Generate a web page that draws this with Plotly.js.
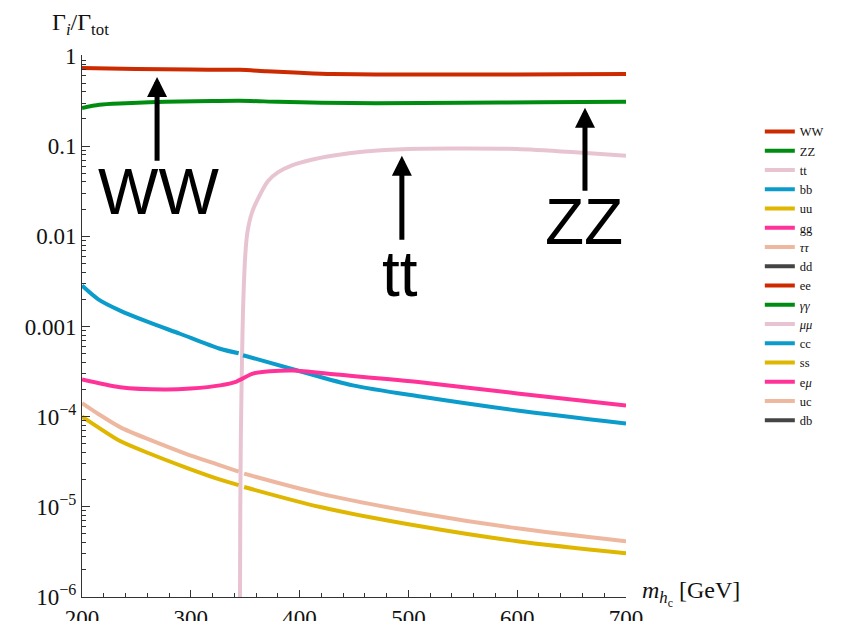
<!DOCTYPE html>
<html>
<head>
<meta charset="utf-8">
<script src="https://cdn.plot.ly/plotly-3.0.1.min.js"></script>
<style>html,body{margin:0;padding:0;background:#fff;}</style>
</head>
<body>
<div id="chart" style="width:843px;height:621px;"></div>
<script>
// ---- data ----
const wwMass = [200, 250, 300, 345, 370, 400, 430, 470, 520, 600, 700];
const wwVal  = [0.735, 0.715, 0.705, 0.70, 0.675, 0.65, 0.63, 0.622, 0.62, 0.622, 0.628];

const zzMass = [200, 216, 240, 262, 290, 320, 345, 380, 420, 470, 550, 620, 700];
const zzVal  = [0.265, 0.287, 0.298, 0.306, 0.312, 0.316, 0.318, 0.31, 0.303, 0.299, 0.302, 0.306, 0.31];

const ttMass = [345.1, 345.5, 346, 347, 348, 350, 352, 356, 361, 371, 380, 393, 410, 430, 460, 500, 540, 600, 650, 700];
const ttVal  = [5e-7, 1e-5, 6e-5, 4e-4, 1.5e-3, 6e-3, 0.011, 0.018, 0.025, 0.041, 0.051, 0.061, 0.07, 0.078, 0.087, 0.093, 0.094, 0.093, 0.086, 0.078];

const bbMass = [200, 215, 235, 260, 290, 326, 344, null, 348, 398, 449, 511, 600, 700];
const bbVal  = [2.84e-3, 2.0e-3, 1.5e-3, 1.13e-3, 8.3e-4, 5.7e-4, 5.05e-4, null, 4.8e-4, 3.25e-4, 2.22e-4, 1.67e-4, 1.17e-4, 8.4e-5];

const uuMass = [200, 215, 235, 262, 295, 327, 344, null, 349, 419, 511, 600, 700];
const uuVal  = [1.0e-4, 7.6e-5, 5.36e-5, 3.9e-5, 2.74e-5, 2.0e-5, 1.74e-5, null, 1.66e-5, 9.95e-6, 6.08e-6, 4.15e-6, 3.05e-6];

const ggMass = [200, 235, 276, 300, 327, 342, 357, 373, 394, 434, 511, 600, 700];
const ggVal  = [2.58e-4, 2.12e-4, 2.0e-4, 2.05e-4, 2.22e-4, 2.45e-4, 3.0e-4, 3.19e-4, 3.25e-4, 2.93e-4, 2.41e-4, 1.81e-4, 1.33e-4];

const tautauMass = [200, 215, 235, 262, 295, 327, 344, null, 349, 419, 511, 600, 700];
const tautauVal  = [1.41e-4, 1.07e-4, 7.65e-5, 5.55e-5, 3.9e-5, 2.88e-5, 2.45e-5, null, 2.33e-5, 1.40e-5, 8.5e-6, 5.78e-6, 4.15e-6];

// channels listed in the legend but below the plotted range (no visible curve)
const emptyMass = [null];
const emptyVal = [null];

const seriesNames  = ['WW','ZZ','tt','bb','uu','gg','<i>ττ</i>','dd','ee','<i>γγ</i>','<i>μμ</i>','cc','ss','e<i>μ</i>','uc','db'];
const seriesColors = ['#cc2a00','#008c10','#e8c4d2','#0c9ccb','#dfb700','#ff3397','#eeb8a0','#444444',
                      '#cc2a00','#008c10','#e8c4d2','#0c9ccb','#dfb700','#ff3397','#eeb8a0','#444444'];
const seriesX = [wwMass, zzMass, ttMass, bbMass, uuMass, ggMass, tautauMass,
                 emptyMass, emptyMass, emptyMass, emptyMass, emptyMass, emptyMass, emptyMass, emptyMass, emptyMass];
const seriesY = [wwVal, zzVal, ttVal, bbVal, uuVal, ggVal, tautauVal,
                 emptyVal, emptyVal, emptyVal, emptyVal, emptyVal, emptyVal, emptyVal, emptyVal, emptyVal];

const xTicks = [200, 300, 400, 500, 600, 700];
const yTicks = [1e-6, 1e-5, 1e-4, 1e-3, 1e-2, 1e-1, 1];
const yTickText = ['10<sup>−6</sup>','10<sup>−5</sup>','10<sup>−4</sup>','0.001','0.01','0.1','1'];

// ---- build ----
const traces = seriesNames.map((n, i) => ({
  type: 'scatter', mode: 'lines', name: n,
  x: seriesX[i], y: seriesY[i],
  connectgaps: false,
  line: {color: seriesColors[i], width: 4, shape: 'spline', smoothing: i === 2 ? 0.5 : 0.8}
}));

const minorY = [];
for (let d = -6; d < 0; d++) for (let k = 2; k <= 9; k++) minorY.push(k * Math.pow(10, d));

const serif = 'Liberation Serif, Times New Roman, serif';
const sans = 'Liberation Sans, Arial, sans-serif';
const axisCol = '#333';

function arrow(x, tipLog, tailLog) {
  return {x: x, y: tipLog, ax: x, ay: tailLog, axref: 'x', ayref: 'y', xref: 'x', yref: 'y',
          text: ' ', font: {size: 1}, showarrow: true, arrowhead: 2, arrowsize: 0.8,
          arrowwidth: 5, arrowcolor: '#000', standoff: 0, startstandoff: 0};
}
function bigText(t, x, yLog) {
  return {x: x, y: yLog, xref: 'x', yref: 'y', text: t, showarrow: false,
          font: {family: sans, size: 64, color: '#000'}, xanchor: 'center', yanchor: 'middle'};
}

const layout = {
  width: 843, height: 621, autosize: false,
  margin: {l: 82, r: 217, t: 55, b: 24, pad: 0},
  paper_bgcolor: '#fff', plot_bgcolor: '#fff',
  showlegend: true,
  legend: {x: 1.246, y: 0.886, xanchor: 'left', yanchor: 'top',
           font: {family: serif, size: 12.5, color: '#111'}, bgcolor: 'rgba(0,0,0,0)',
           tracegroupgap: 0, itemwidth: 30},
  xaxis: {range: [200, 700], tickmode: 'array', tickvals: xTicks, ticktext: xTicks.map(String),
          ticks: 'inside', ticklen: 7, tickwidth: 1, tickcolor: axisCol,
          showline: true, linecolor: axisCol, linewidth: 1, showgrid: false, zeroline: false,
          tickfont: {family: serif, size: 23, color: '#111'},
          minor: {dtick: 20, tick0: 200, ticks: 'inside', ticklen: 4, tickcolor: axisCol, showgrid: false}},
  yaxis: {type: 'log', range: [-6, 0.01], tickmode: 'array', tickvals: yTicks, ticktext: yTickText,
          ticks: 'inside', ticklen: 8, tickwidth: 1, tickcolor: axisCol,
          showline: true, linecolor: axisCol, linewidth: 1, showgrid: false, zeroline: false,
          tickfont: {family: serif, size: 23, color: '#111'},
          minor: {tickmode: 'array', tickvals: minorY, ticks: 'inside', ticklen: 4, tickcolor: axisCol, showgrid: false}},
  annotations: [
    {xref: 'paper', yref: 'paper', x: -0.059, y: 1.058, xanchor: 'left', yanchor: 'middle', showarrow: false,
     text: 'Γ<sub><i>i</i></sub>/Γ<sub>tot</sub>', font: {family: serif, size: 24, color: '#111'}},
    {xref: 'paper', yref: 'paper', x: 1.026, y: 0.006, xanchor: 'left', yanchor: 'middle', showarrow: false,
     text: '<i>m</i><sub><i>h</i><sub>c</sub></sub> [GeV]', font: {family: serif, size: 24, color: '#111'}},
    arrow(269, -0.233, -1.185),
    arrow(494, -1.107, -2.06),
    arrow(662.3, -0.576, -1.517),
    bigText('WW', 269.9, -1.512),
    bigText('tt', 492.3, -2.414),
    bigText('ZZ', 661.4, -1.844)
  ]
};

Plotly.newPlot('chart', traces, layout, {displayModeBar: false, staticPlot: true});
</script>
</body>
</html>
